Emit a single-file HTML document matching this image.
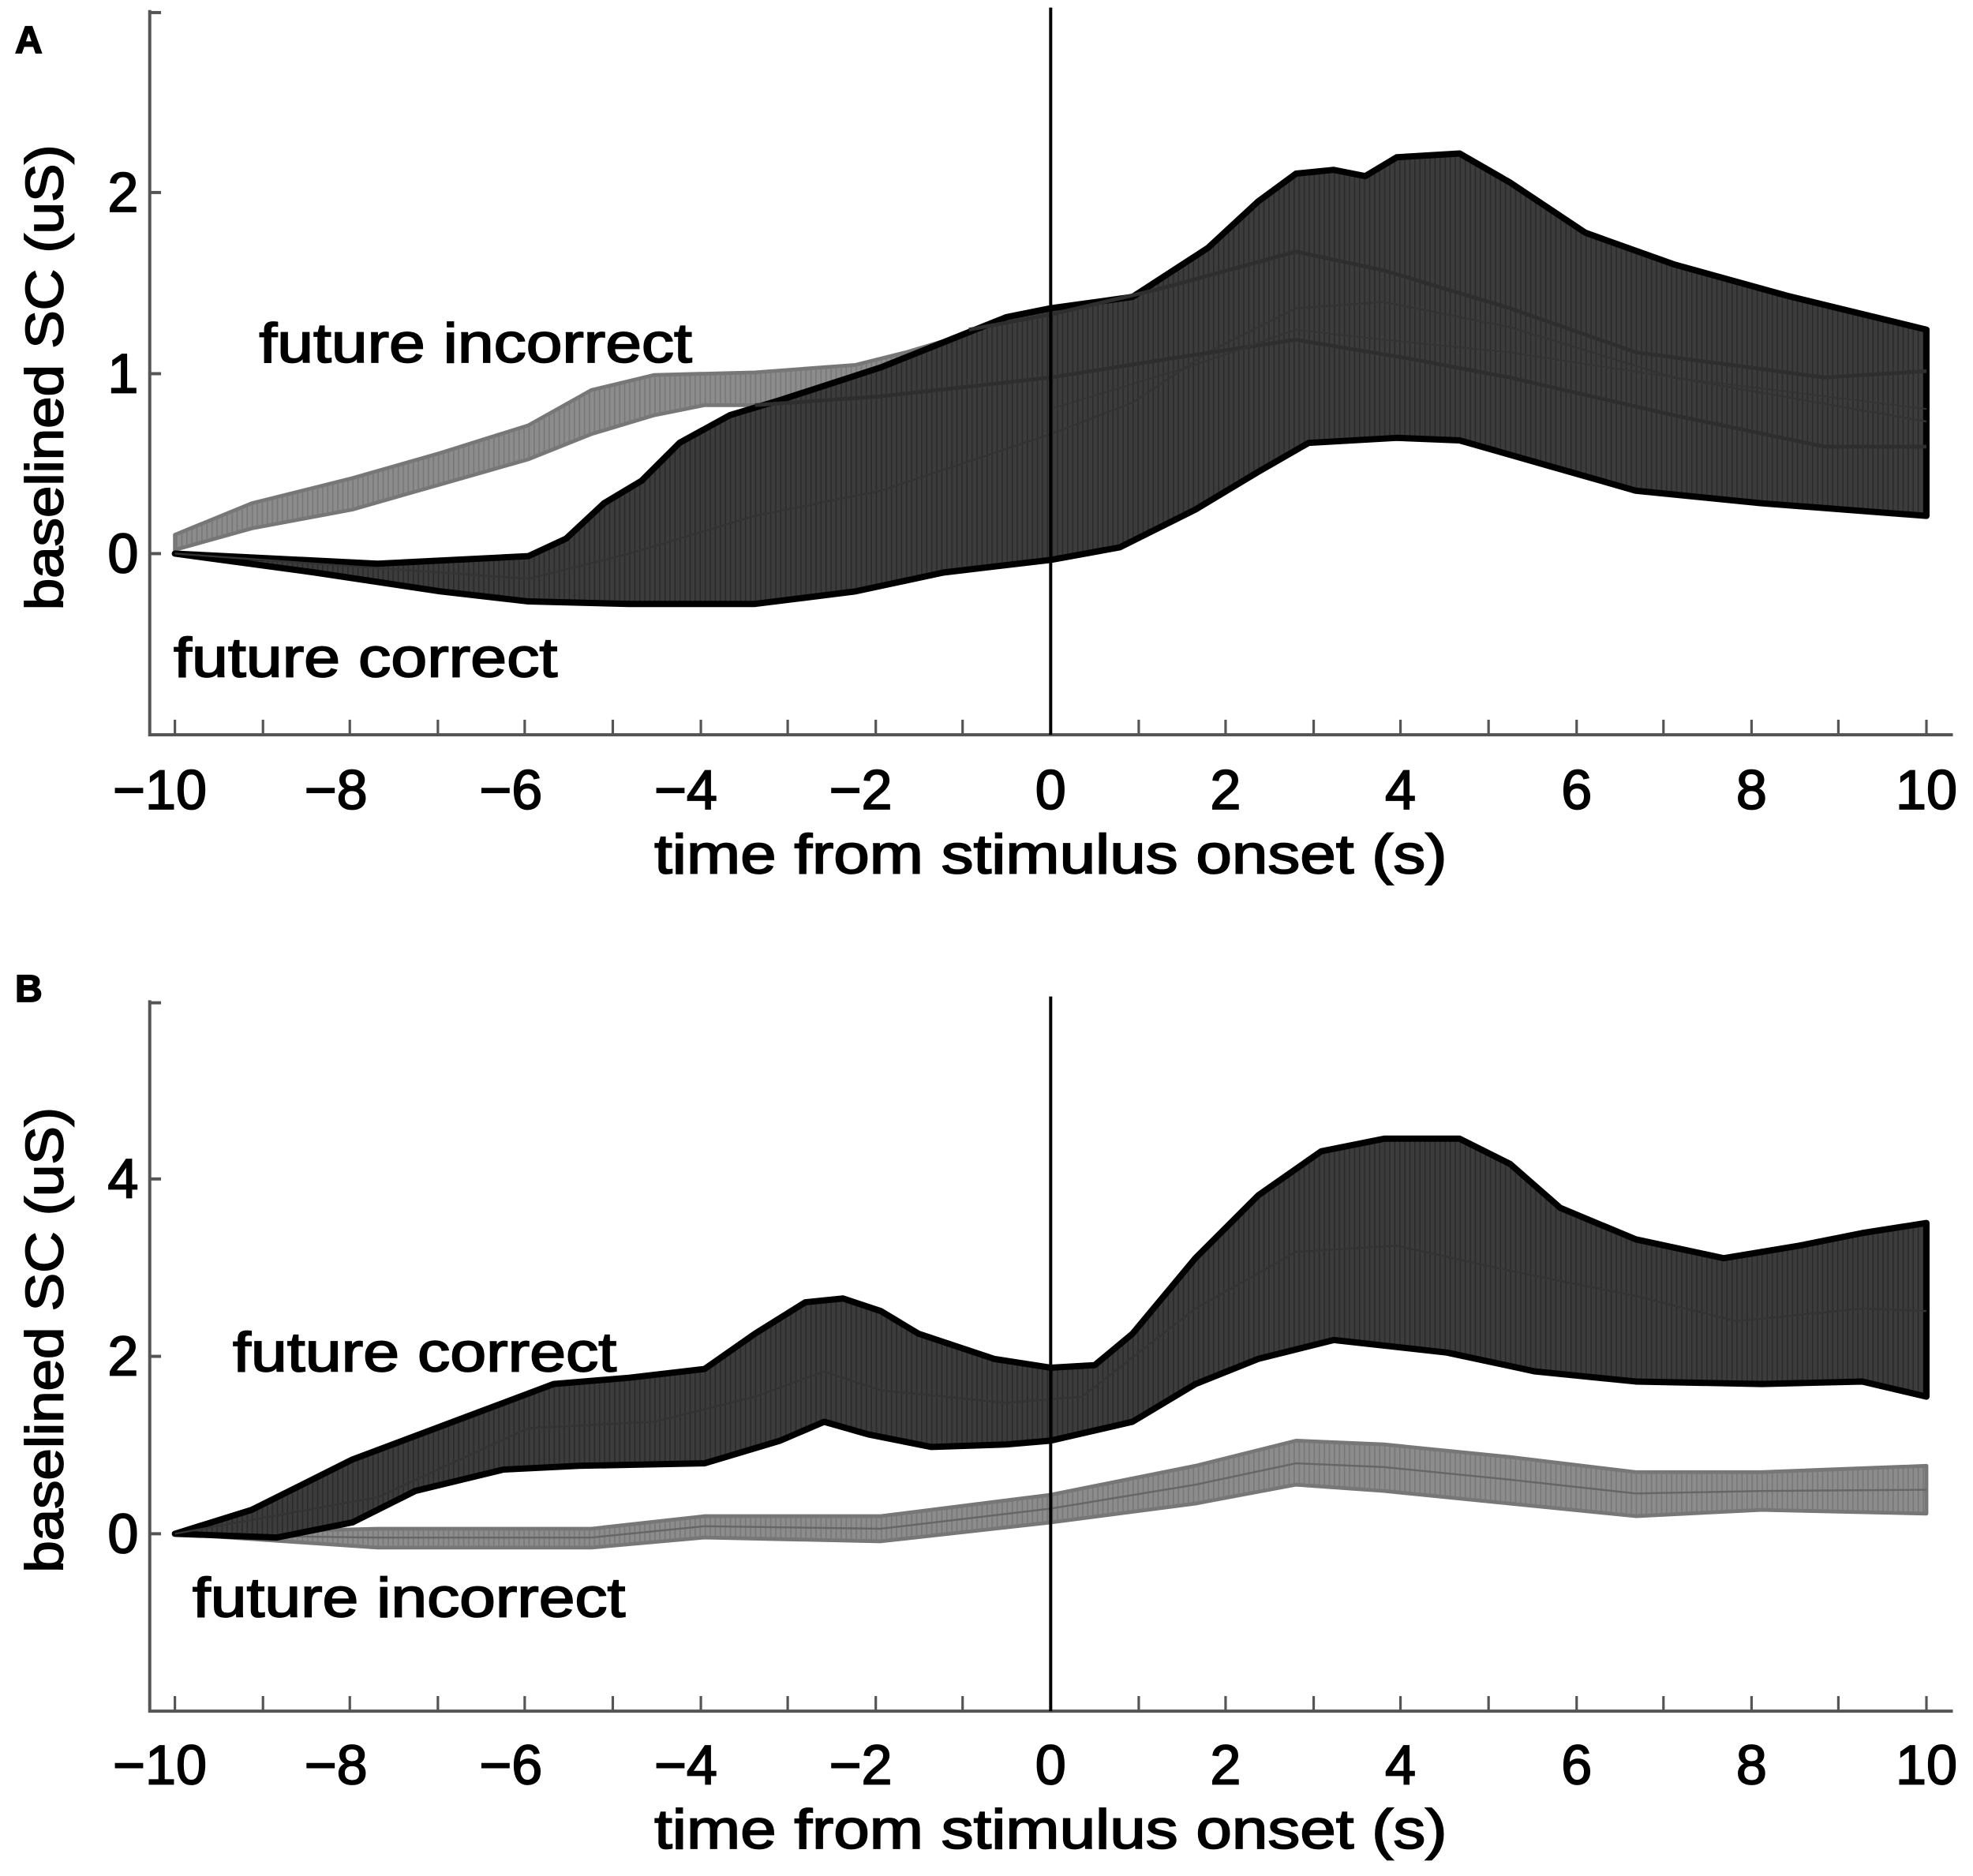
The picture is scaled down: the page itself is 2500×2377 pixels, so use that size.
<!DOCTYPE html>
<html><head><meta charset="utf-8"><style>
html,body{margin:0;padding:0;background:#fff}
svg{display:block}
text{font-family:"Liberation Sans",sans-serif;fill:#000;stroke:#000;stroke-width:1.1}
</style></head><body>
<svg width="2500" height="2377" viewBox="0 0 1568 1491" preserveAspectRatio="none" xmlns="http://www.w3.org/2000/svg">
<defs>
<pattern id="vs" width="4" height="10" patternUnits="userSpaceOnUse"><rect width="4" height="10" fill="#3c3c3c"/><rect width="1" height="10" fill="#2a2a2a"/></pattern>
<pattern id="vg" width="4" height="10" patternUnits="userSpaceOnUse"><rect width="4" height="10" fill="#8c8c8c"/><rect width="1" height="10" fill="#777"/></pattern>
</defs>
<text x="12" y="42" font-size="30" font-weight="bold">A</text>
<text x="12" y="796" font-size="30" font-weight="bold">B</text>

<!-- Panel A -->
<g stroke-linejoin="round">
<polygon fill="url(#vg)" stroke="#777" stroke-width="3" points="139,425 200,400 280,380 350,360 420,338 470,310 520,298 600,296 680,290 720,280 770,265 700,320 600,322 560,322 520,330 470,345 420,365 350,385 280,405 200,420 139,437"/>
<polygon fill="url(#vs)" stroke="#000" stroke-width="5" points="139,440 300,448 420,442 450,428 480,400 510,382 540,352 580,330 620,318 700,292 760,268 800,252 835,245 900,236 960,197 1000,160 1030,138 1060,135 1085,140 1110,125 1160,122 1200,145 1260,185 1330,210 1420,235 1531,262 1531,410 1400,400 1300,390 1230,370 1160,350 1110,348 1040,352 1000,375 950,405 890,435 835,445 750,455 680,470 600,480 500,480 420,478 350,470 250,455"/>
<polyline fill="none" stroke="#333" stroke-width="1.5" points="139,440 420,460 500,440 600,410 700,390 835,345 900,320 960,280 1030,245 1100,240 1200,260 1330,300 1531,335"/>
<polyline fill="none" stroke="#2e2e2e" stroke-width="3" points="770,262 835,250 920,230 1030,200 1100,215 1200,245 1300,280 1450,300 1531,295"/>
<polyline fill="none" stroke="#2e2e2e" stroke-width="3" points="600,322 700,315 835,300 930,285 1030,270 1120,285 1200,300 1330,330 1450,355 1531,355"/>
<polyline fill="none" stroke="#333" stroke-width="1.2" points="835,325 950,290 1030,262 1100,270 1200,280 1330,300 1531,325"/>
</g>
<g stroke="#555" stroke-width="2.5" fill="none">
<polyline points="119,8 119,584 1552,584"/>
<line x1="119" y1="10" x2="128" y2="10"/><line x1="119" y1="153" x2="128" y2="153"/><line x1="119" y1="297" x2="128" y2="297"/><line x1="119" y1="440" x2="128" y2="440"/>
</g>
<g stroke="#555" stroke-width="2">
<line x1="139" y1="584" x2="139" y2="572"/><line x1="209" y1="584" x2="209" y2="572"/><line x1="278" y1="584" x2="278" y2="572"/><line x1="348" y1="584" x2="348" y2="572"/><line x1="417" y1="584" x2="417" y2="572"/><line x1="487" y1="584" x2="487" y2="572"/><line x1="557" y1="584" x2="557" y2="572"/><line x1="626" y1="584" x2="626" y2="572"/><line x1="696" y1="584" x2="696" y2="572"/><line x1="765" y1="584" x2="765" y2="572"/><line x1="905" y1="584" x2="905" y2="572"/><line x1="974" y1="584" x2="974" y2="572"/><line x1="1044" y1="584" x2="1044" y2="572"/><line x1="1113" y1="584" x2="1113" y2="572"/><line x1="1183" y1="584" x2="1183" y2="572"/><line x1="1253" y1="584" x2="1253" y2="572"/><line x1="1322" y1="584" x2="1322" y2="572"/><line x1="1392" y1="584" x2="1392" y2="572"/><line x1="1461" y1="584" x2="1461" y2="572"/><line x1="1531" y1="584" x2="1531" y2="572"/>
</g>
<line x1="835" y1="6" x2="835" y2="584" stroke="#000" stroke-width="2.5"/>
<g font-size="44" text-anchor="middle">
<text x="127" y="643">−10</text><text x="267" y="643">−8</text><text x="406" y="643">−6</text><text x="545" y="643">−4</text><text x="684" y="643">−2</text><text x="835" y="643">0</text><text x="974" y="643">2</text><text x="1113" y="643">4</text><text x="1253" y="643">6</text><text x="1392" y="643">8</text><text x="1531" y="643">10</text>
</g>
<g font-size="44" text-anchor="end">
<text x="110" y="168">2</text><text x="110" y="312">1</text><text x="110" y="455">0</text>
</g>
<text x="835" y="694" font-size="44" text-anchor="middle" textLength="630" lengthAdjust="spacingAndGlyphs">time from stimulus onset (s)</text>
<text transform="translate(50,300) rotate(-90)" font-size="42" text-anchor="middle" textLength="370" lengthAdjust="spacingAndGlyphs">baselined SC (uS)</text>
<text x="206" y="288" font-size="44" textLength="344" lengthAdjust="spacingAndGlyphs">future incorrect</text>
<text x="138" y="538" font-size="44" textLength="305" lengthAdjust="spacingAndGlyphs">future correct</text>

<!-- Panel B -->
<g stroke-linejoin="round">
<polygon fill="url(#vg)" stroke="#777" stroke-width="3" points="139,1219 300,1215 470,1215 560,1205 700,1205 835,1188 950,1165 1030,1145 1100,1148 1200,1158 1300,1170 1400,1170 1531,1165 1531,1203 1400,1200 1300,1205 1200,1195 1100,1185 1030,1180 950,1195 835,1210 700,1225 560,1222 470,1230 300,1230"/>
<polyline fill="none" stroke="#666" stroke-width="1.5" points="139,1220 300,1222 470,1222 560,1213 700,1215 835,1199 950,1180 1030,1163 1100,1166 1200,1176 1300,1187 1400,1185 1531,1184"/>
<polygon fill="url(#vs)" stroke="#000" stroke-width="5" points="139,1219 200,1200 280,1160 360,1130 440,1100 500,1095 560,1088 600,1060 640,1035 670,1032 700,1042 730,1060 790,1080 835,1087 870,1085 900,1060 950,1000 1000,950 1050,915 1100,905 1160,905 1200,925 1240,960 1300,985 1370,1000 1430,990 1480,980 1531,972 1531,1110 1480,1098 1400,1100 1300,1098 1220,1090 1150,1075 1060,1065 1000,1080 950,1100 900,1130 835,1145 800,1148 740,1150 690,1140 655,1130 620,1145 560,1163 460,1165 400,1168 330,1185 280,1210 220,1222"/>
<polyline fill="none" stroke="#333" stroke-width="1.5" points="139,1219 300,1190 420,1135 520,1130 600,1110 655,1090 700,1105 800,1115 860,1110 950,1040 1030,995 1110,990 1200,1010 1300,1030 1380,1050 1480,1040 1531,1042"/>
</g>
<g stroke="#555" stroke-width="2.5" fill="none">
<polyline points="119,795 119,1360 1552,1360"/>
<line x1="119" y1="797" x2="128" y2="797"/><line x1="119" y1="937" x2="128" y2="937"/><line x1="119" y1="1078" x2="128" y2="1078"/><line x1="119" y1="1219" x2="128" y2="1219"/>
</g>
<g stroke="#555" stroke-width="2">
<line x1="139" y1="1360" x2="139" y2="1348"/><line x1="209" y1="1360" x2="209" y2="1348"/><line x1="278" y1="1360" x2="278" y2="1348"/><line x1="348" y1="1360" x2="348" y2="1348"/><line x1="417" y1="1360" x2="417" y2="1348"/><line x1="487" y1="1360" x2="487" y2="1348"/><line x1="557" y1="1360" x2="557" y2="1348"/><line x1="626" y1="1360" x2="626" y2="1348"/><line x1="696" y1="1360" x2="696" y2="1348"/><line x1="765" y1="1360" x2="765" y2="1348"/><line x1="905" y1="1360" x2="905" y2="1348"/><line x1="974" y1="1360" x2="974" y2="1348"/><line x1="1044" y1="1360" x2="1044" y2="1348"/><line x1="1113" y1="1360" x2="1113" y2="1348"/><line x1="1183" y1="1360" x2="1183" y2="1348"/><line x1="1253" y1="1360" x2="1253" y2="1348"/><line x1="1322" y1="1360" x2="1322" y2="1348"/><line x1="1392" y1="1360" x2="1392" y2="1348"/><line x1="1461" y1="1360" x2="1461" y2="1348"/><line x1="1531" y1="1360" x2="1531" y2="1348"/>
</g>
<line x1="835" y1="792" x2="835" y2="1360" stroke="#000" stroke-width="2.5"/>
<g font-size="44" text-anchor="middle">
<text x="127" y="1418">−10</text><text x="267" y="1418">−8</text><text x="406" y="1418">−6</text><text x="545" y="1418">−4</text><text x="684" y="1418">−2</text><text x="835" y="1418">0</text><text x="974" y="1418">2</text><text x="1113" y="1418">4</text><text x="1253" y="1418">6</text><text x="1392" y="1418">8</text><text x="1531" y="1418">10</text>
</g>
<g font-size="44" text-anchor="end">
<text x="110" y="952">4</text><text x="110" y="1093">2</text><text x="110" y="1234">0</text>
</g>
<text x="835" y="1469" font-size="44" text-anchor="middle" textLength="630" lengthAdjust="spacingAndGlyphs">time from stimulus onset (s)</text>
<text transform="translate(50,1065) rotate(-90)" font-size="42" text-anchor="middle" textLength="370" lengthAdjust="spacingAndGlyphs">baselined SC (uS)</text>
<text x="185" y="1090" font-size="44" textLength="305" lengthAdjust="spacingAndGlyphs">future correct</text>
<text x="153" y="1285" font-size="44" textLength="344" lengthAdjust="spacingAndGlyphs">future incorrect</text>
</svg>
</body></html>
